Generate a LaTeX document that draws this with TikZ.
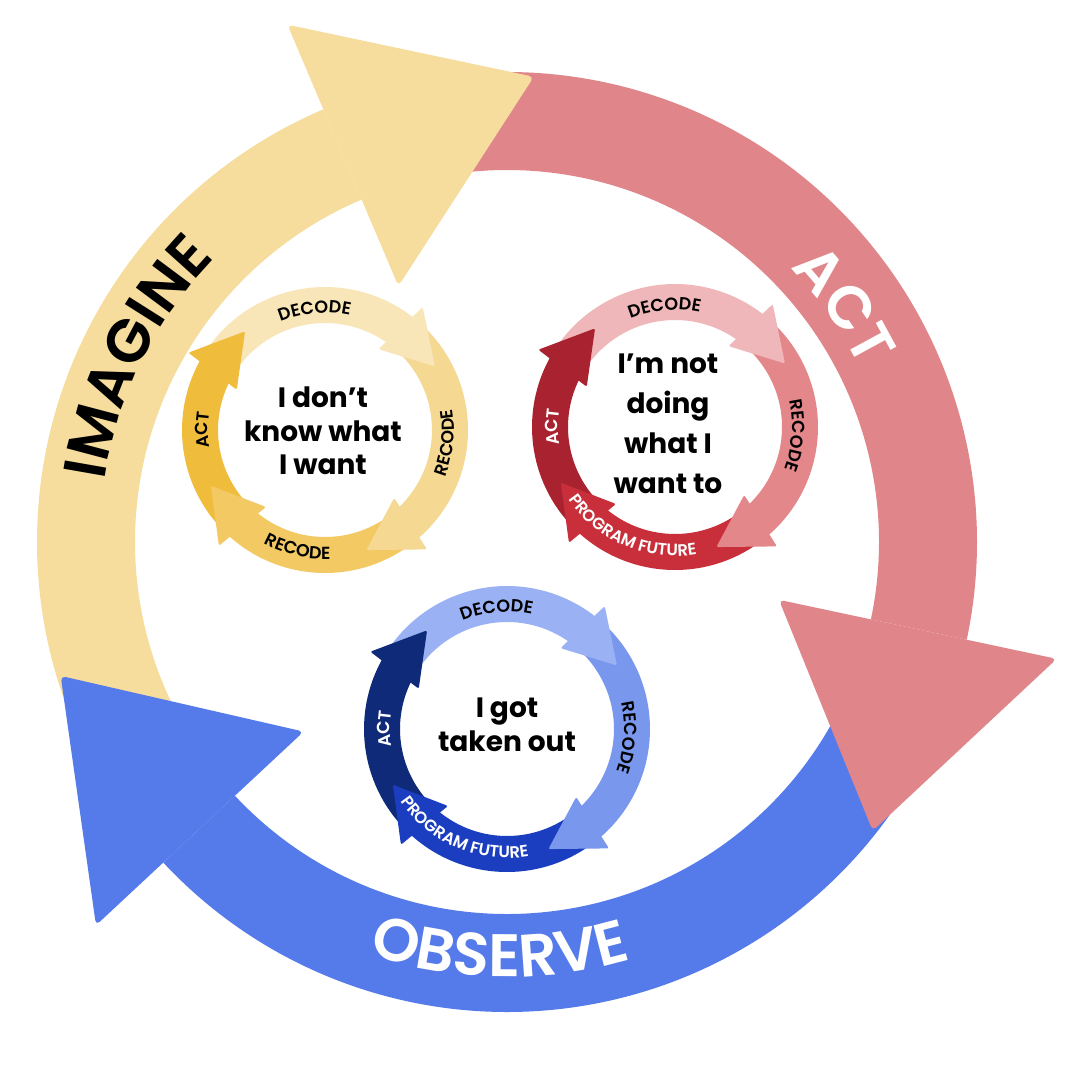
\documentclass[tikz,border=0pt]{standalone}
\usepackage{fontspec}
\setmainfont{Poppins}
\newfontfamily\popsemi{Poppins SemiBold}
\newfontfamily\popmed{Poppins Medium}
\usetikzlibrary{calc,decorations.text}

\definecolor{bigY}{HTML}{F6DD9D}
\definecolor{bigR}{HTML}{E0868A}
\definecolor{bigB}{HTML}{557BEA}
\definecolor{yA}{HTML}{F8E6B8}
\definecolor{yB}{HTML}{F5D892}
\definecolor{yC}{HTML}{F2C963}
\definecolor{yD}{HTML}{F0BC3C}
\definecolor{rA}{HTML}{EFB7B9}
\definecolor{rB}{HTML}{E3878B}
\definecolor{rC}{HTML}{C92F3A}
\definecolor{rD}{HTML}{A8232F}
\definecolor{bA}{HTML}{9AB1F3}
\definecolor{bB}{HTML}{7A97EE}
\definecolor{bC}{HTML}{1B3DBF}
\definecolor{bD}{HTML}{0E2A78}

% big ring band: center, start, end, colour
\newcommand\bigband[4]{\fill[#4] ($(#1)+(#2:470pt)$) arc[start angle=#2,end angle=#3,radius=470pt] -- ($(#1)+(#3:372pt)$) arc[start angle=#3,end angle=#2,radius=372pt] -- cycle;}
% big head: center, base angle, colour
\newcommand\bighead[3]{\fill[#3,rounded corners=5pt] ($(#1)+(#2:562pt)$) -- ($(#1)+({#2-26.3}:466pt)$) -- ($(#1)+(#2:278pt)$) -- cycle;}
% small band
\newcommand\sband[4]{\fill[#4] ($(#1)+(#2:143pt)$) arc[start angle=#2,end angle=#3,radius=143pt] -- ($(#1)+(#3:107pt)$) arc[start angle=#3,end angle=#2,radius=107pt] -- cycle;}
% small head
\newcommand\shead[3]{\fill[#3,rounded corners=2pt] ($(#1)+(#2:157pt)$) -- ($(#1)+({#2-21.5}:127pt)$) -- ($(#1)+({#2+5}:97pt)$) -- cycle;}
% curved text: center, radius, start, end, colour, font, text
\newcommand\ctext[7]{\path[decorate,decoration={text along path,text align=center,text color=#5,text={|#6|#7}}] ($(#1)+(#3:#2pt)$) arc[start angle=#3,end angle=#4,radius=#2pt];}

\tikzset{ctr/.style={align=center,inner sep=0pt,text=black}}
\newcommand\smallfont{\popsemi\fontsize{17.5}{17.5}\selectfont}
\newcommand\progfont{\popsemi\fontsize{16.5}{16.5}\selectfont}
\newcommand\bigfont{\popsemi\fontsize{60}{60}\selectfont}

\begin{document}
\begin{tikzpicture}[x=1pt,y=1pt]
\useasboundingbox (0,0) rectangle (1080,-1080);
\fill[white] (0,0) rectangle (1080,-1080);
\coordinate (C) at (507,-542);
\coordinate (Y) at (325,-430);
\coordinate (R) at (675,-427);
\coordinate (B) at (507,-729);

% big cycle
\bigband{C}{207}{113}{bigY}
\bigband{C}{97}{-12}{bigR}
\bigband{C}{-27}{-137}{bigB}
\bighead{C}{113}{bigY}
\bighead{C}{-12}{bigR}
\bighead{C}{223}{bigB}

\ctext{C}{407}{213.5}{93.5}{black}{\bigfont}{IMAGINE}
\ctext{C}{394}{75}{-5}{white}{\bigfont}{ACT}
\ctext{C}{435}{219}{319}{white}{\bigfont}{OBSERVE}

% small cycles: bands then heads
\foreach \c/\ca/\cb/\cc/\cd in {Y/yA/yB/yC/yD, R/rA/rB/rC/rD, B/bA/bB/bC/bD}{
  \sband{\c}{224.5}{150.5}{\cd}
  \sband{\c}{147.5}{51.5}{\ca}
  \sband{\c}{48.5}{-49.5}{\cb}
  \sband{\c}{-52.5}{-132.5}{\cc}
  \shead{\c}{150.5}{\cd}
  \shead{\c}{51.5}{\ca}
  \shead{\c}{-49.5}{\cb}
  \shead{\c}{227.5}{\cc}
}

% yellow small cycle texts
\ctext{Y}{117}{135}{55}{black}{\smallfont}{DECODE}
\ctext{Y}{129}{-46}{34}{black}{\smallfont}{RECODE}
\ctext{Y}{129}{217}{297}{black}{\smallfont}{RECODE}
\ctext{Y}{117}{220}{140}{black}{\smallfont}{ACT}
% red small cycle texts
\ctext{R}{117}{135}{55}{black}{\smallfont}{DECODE}
\ctext{R}{117}{36}{-44}{black}{\smallfont}{RECODE}
\ctext{R}{129}{197}{297}{white}{\progfont}{PROGRAM FUTURE}
\ctext{R}{117}{220}{140}{white}{\smallfont}{ACT}
% blue small cycle texts
\ctext{B}{117}{135}{55}{black}{\smallfont}{DECODE}
\ctext{B}{117}{36}{-44}{black}{\smallfont}{RECODE}
\ctext{B}{129}{197}{297}{white}{\progfont}{PROGRAM FUTURE}
\ctext{B}{117}{220}{140}{white}{\smallfont}{ACT}

% centre texts
\node[ctr,font=\bfseries\fontsize{28}{33.5}\selectfont] (ty) at (323,-431) {I don’t\\know what\\I want};
\node[ctr,font=\bfseries\fontsize{28}{40}\selectfont] (tr) at (668,-424) {I’m not\\doing\\what I\\want to};
\node[ctr,font=\bfseries\fontsize{28}{33.5}\selectfont] (tb) at (507,-725) {I got\\taken out};
\end{tikzpicture}
\end{document}
